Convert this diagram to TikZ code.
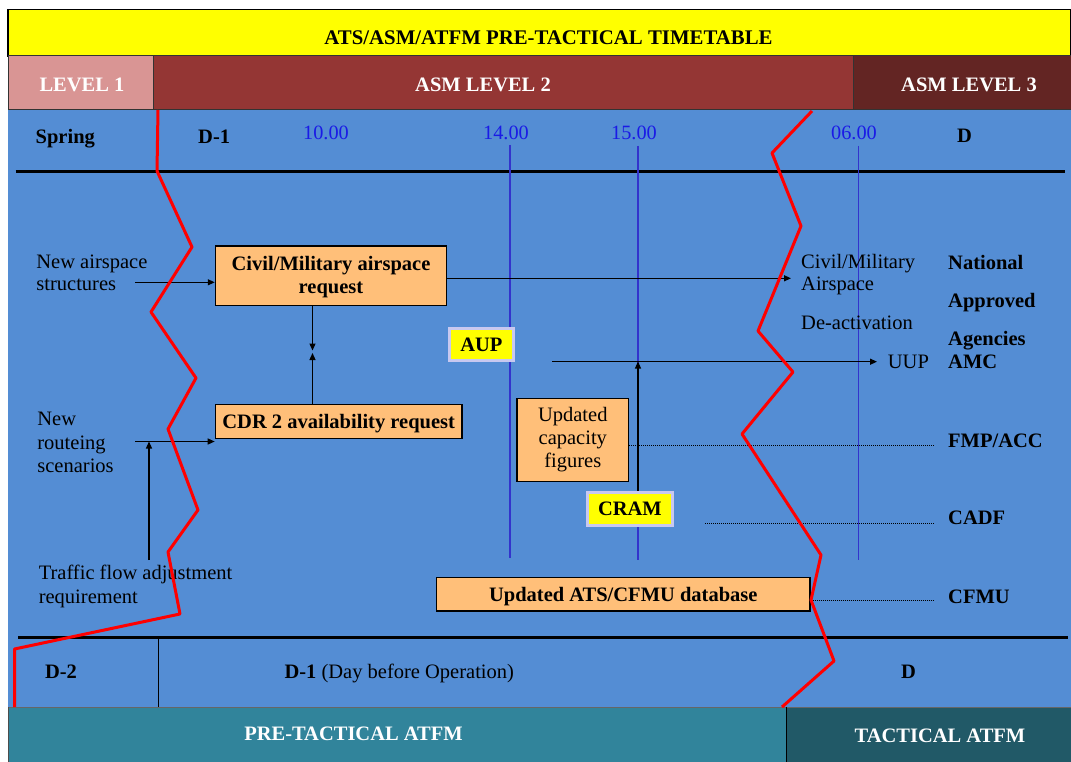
\documentclass[tikz,border=0pt]{standalone}
\usepackage{fontspec}
\setmainfont{Liberation Serif}
\usetikzlibrary{arrows.meta}
\definecolor{ttlyellow}{HTML}{FFFF00}
\definecolor{lvone}{HTML}{D99594}
\definecolor{lvtwo}{HTML}{943634}
\definecolor{lvthree}{HTML}{632523}
\definecolor{bgblue}{HTML}{548DD4}
\definecolor{boxorange}{HTML}{FFBF79}
\definecolor{tealone}{HTML}{31849B}
\definecolor{tealtwo}{HTML}{215967}
\definecolor{timeblue}{HTML}{1A1AE6}
\definecolor{lineblue}{HTML}{3333CC}
\definecolor{lavender}{HTML}{C8C8F0}
\newcommand{\lstack}[1]{\begin{tabular}[t]{@{}l@{}}#1\end{tabular}}
\newcommand{\cstack}[1]{\begin{tabular}{@{}c@{}}#1\end{tabular}}
\newcommand{\tstack}[1]{\begin{tabular}[t]{@{}c@{}}#1\end{tabular}}
\begin{document}
\begin{tikzpicture}[x=1pt,y=-1pt,
  txt/.style={inner sep=0pt, font=\fontsize{20.5}{23}\selectfont},
  btxt/.style={inner sep=0pt, font=\fontsize{20.5}{23}\selectfont\bfseries},
  ttxt/.style={inner sep=0pt, font=\fontsize{20.3}{23}\selectfont, text=timeblue},
  obox/.style={draw=black, line width=1.5pt, fill=boxorange},
  ybox/.style={draw=lavender, line width=3pt, fill=ttlyellow},
  arr/.style={-{Triangle[length=7pt,width=6pt]}, line width=1.2pt, black},
  dotl/.style={black, line width=1pt, dash pattern=on 1pt off 1pt},
  bline/.style={lineblue, line width=1.3pt},
  divl/.style={black, line width=3pt},
  redl/.style={red, line width=3pt, line join=round}]
\useasboundingbox (0,0) rectangle (1071,762);
% backgrounds
\fill[white] (0,0) rectangle (1071,762);
\filldraw[fill=ttlyellow, draw=black, line width=1.2pt] (8,9.3) rectangle (1071,56);
\filldraw[fill=lvone, draw=black!80, line width=1pt] (8,56) rectangle (153.5,110);
\filldraw[fill=lvtwo, draw=black!80, line width=1pt] (153.5,56) rectangle (853.3,110);
\filldraw[fill=lvthree, draw=black!80, line width=1pt] (853.3,56) rectangle (1071,110);
\fill[bgblue] (8,110) rectangle (1071,707);
\fill[tealone] (8,707) rectangle (786.4,762);
\fill[tealtwo] (786.4,707) rectangle (1071,762);
\draw[black!60, line width=0.8pt] (8,707) -- (1071,707);
\draw[black, line width=1pt] (786.4,707) -- (786.4,762);
\draw[black!70, line width=1pt] (8,707) -- (8,762);
% dividers
\draw[divl] (15.5,171.5) -- (1065,171.5);
\draw[divl] (18,637.7) -- (1068,637.7);
\draw[black, line width=1.5pt] (158.4,637.7) -- (158.4,707);
% blue time lines
\draw[bline] (510,145) -- (510,558.3);
\draw[bline] (638,146) -- (638,560);
\draw[bline] (858.5,146) -- (858.5,560);
% header texts
\node[btxt, anchor=base, font=\fontsize{20.8}{23}\selectfont\bfseries] (title) at (548.5,44.3) {ATS/ASM/ATFM PRE-TACTICAL TIMETABLE};
\node[btxt, anchor=base, text=white] (lvA) at (82,91.7) {LEVEL 1};
\node[btxt, anchor=base, text=white] (lvB) at (483,91.7) {ASM LEVEL 2};
\node[btxt, anchor=base, text=white] (lvC) at (969,91.7) {ASM LEVEL 3};
\node[btxt, anchor=base west] (spring) at (35.5,143.3) {Spring};
\node[btxt, anchor=base west] (dmone) at (198,143.3) {D-1};
\node[ttxt, anchor=base] (tten) at (326,140) {10.00};
\node[ttxt, anchor=base] (tfourteen) at (506,140) {14.00};
\node[ttxt, anchor=base] (tfifteen) at (634,140) {15.00};
\node[ttxt, anchor=base] (tsix) at (854,140) {06.00};
\node[btxt, anchor=base west] (dday) at (957,143) {D};
% left texts
\node[txt, anchor=base west, font=\fontsize{20.5}{22.4}\selectfont] (newair) at (36.2,268.3) {\lstack{New airspace\\structures}};
\node[txt, anchor=base west, font=\fontsize{20.5}{23.5}\selectfont] (newroute) at (37.2,425.7) {\lstack{New\\routeing\\scenarios}};
\node[txt, anchor=base west, font=\fontsize{20.5}{24}\selectfont] (traffic) at (38.6,579.3) {\lstack{Traffic flow adjustment\\requirement}};
% right texts
\node[txt, anchor=base west, font=\fontsize{20.5}{21.7}\selectfont] (cmair) at (801,268.3) {\lstack{Civil/Military\\Airspace}};
\node[txt, anchor=base west] (deact) at (801,329) {De-activation};
\node[txt, anchor=base west] (uup) at (887.7,368) {UUP};
\node[btxt, anchor=base west] (national) at (948,269.3) {National};
\node[btxt, anchor=base west] (approved) at (948,307.3) {Approved};
\node[btxt, anchor=base west] (agencies) at (948,345) {Agencies};
\node[btxt, anchor=base west] (amc) at (948,368.3) {AMC};
\node[btxt, anchor=base west] (fmp) at (948,447) {FMP/ACC};
\node[btxt, anchor=base west] (cadf) at (948,524) {CADF};
\node[btxt, anchor=base west] (cfmutxt) at (948,603) {CFMU};
% bottom texts
\node[btxt, anchor=base west] (dmtwo) at (44.8,678) {D-2};
\node[txt, anchor=base west] (dmoneb) at (284.4,678) {\textbf{D-1} (Day before Operation)};
\node[btxt, anchor=base west] (ddayb) at (901,678) {D};
\node[btxt, anchor=base, text=white] (pretac) at (353.5,740.7) {PRE-TACTICAL ATFM};
\node[btxt, anchor=base, text=white] (tac) at (940,742) {TACTICAL ATFM};
% boxes
\node[obox, btxt, minimum width=231, minimum height=59.3, text height=18.7pt, text depth=29.9pt] (civil) at (331,275.6) {\tstack{Civil/Military airspace\\request}};
\node[obox, btxt, minimum width=246.5, minimum height=34, text depth=0pt] (cdr) at (338.7,421.5) {CDR 2 availability request};
\node[obox, txt, minimum width=111.7, minimum height=83.4] (cap) at (572.8,440) {\cstack{Updated\\capacity\\figures}};
\node[obox, btxt, minimum width=373.3, minimum height=33.7, text depth=0pt] (cfmu) at (623.3,594.2) {Updated ATS/CFMU database};
\node[ybox, btxt, minimum width=63.8, minimum height=32.6] (aup) at (481.4,344.5) {AUP};
\node[ybox, btxt, minimum width=85.8, minimum height=32.7] (cram) at (629.9,508.8) {CRAM};
% arrows
\coordinate (nasA) at (135,282.3);
\draw[arr] (nasA) -- (nasA -| civil.west);
\coordinate (cmaTip) at (791,278.3);
\draw[arr] (civil.east |- cmaTip) -- (cmaTip);
\coordinate (dnTip) at (312.5,350.5);
\coordinate (upTip) at (312.5,353);
\draw[arr] (civil.south -| dnTip) -- (dnTip);
\draw[arr] (cdr.north -| upTip) -- (upTip);
\coordinate (nrsA) at (135,441.5);
\draw[arr] (nrsA) -- (nrsA -| cdr.west);
\coordinate (tfaA) at (149,560);
\coordinate (tfaTip) at (149,441.5);
\draw[arr] (tfaA) -- (tfaTip);
\coordinate (uupA) at (552,361.7);
\coordinate (uupTip) at (877,361.7);
\draw[arr] (uupA) -- (uupTip);
\coordinate (cramTip) at (638,361.5);
\draw[arr] (cram.north -| cramTip) -- (cramTip);
% dotted leaders
\coordinate (fmpEnd) at (935,445);
\draw[dotl] (cap.east |- fmpEnd) -- (fmpEnd);
\coordinate (cadfA) at (705,523.3);
\coordinate (cadfB) at (935,523.3);
\draw[dotl] (cadfA) -- (cadfB);
\coordinate (cfmuEnd) at (933.7,600.7);
\draw[dotl] (cfmu.east |- cfmuEnd) -- (cfmuEnd);
% red boundaries
\draw[redl] (158,110) -- (157,171) -- (192,247) -- (151,312) -- (196,378) -- (168,429) -- (198,510) -- (168,552) -- (180,614) -- (14.5,649) -- (14.5,707);
\draw[redl] (812,111) -- (772,153) -- (801,226) -- (758,331) -- (793,372) -- (742,434) -- (821,555) -- (811,600) -- (834,661) -- (782,707);
\end{tikzpicture}
\end{document}
